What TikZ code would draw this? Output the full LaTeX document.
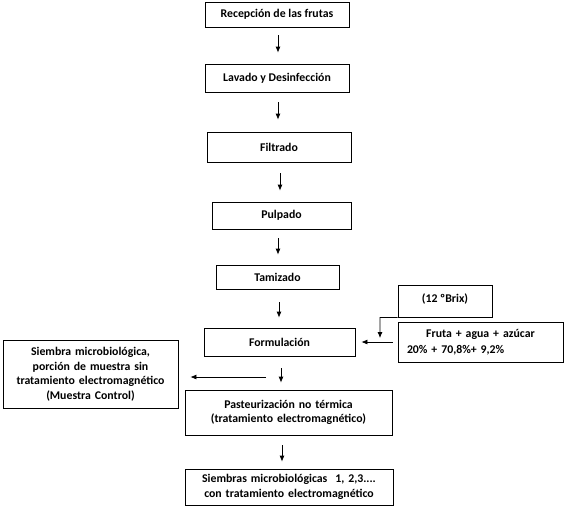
\documentclass[tikz,border=0pt]{standalone}
\usepackage{fontspec}
\setmainfont{Carlito}
\usetikzlibrary{arrows.meta}
\begin{document}
\begin{tikzpicture}[x=1pt,y=-1pt,
  box/.style={draw, line width=0.75pt, inner sep=0pt, fill=white,
    font=\bfseries\fontsize{11.8}{14.5}\selectfont, align=center},
  arr/.style={-{Latex[length=6pt,width=5pt]}, line width=0.75pt}]
\useasboundingbox (0,0) rectangle (566,515);
% main column
\node[box, minimum width=144, minimum height=25] (rec) at (277,14.5) {Recepción de las frutas};
\node[box, minimum width=144, minimum height=28] (lav) at (277,78) {Lavado y Desinfección};
\node[box, minimum width=144, minimum height=30] (fil) at (279,147) {Filtrado};
\node[box, minimum width=139, minimum height=27] (pul) at (281.5,215.5) {Pulpado};
\node[box, minimum width=123, minimum height=24] (tam) at (277.5,277) {Tamizado};
\node[box, minimum width=151, minimum height=28] (form) at (279.5,342) {Formulación};
\node[box, minimum width=207, minimum height=45, text width=207] (past) at (288.5,412.5)
  {Pasteurización no térmica\\(tratamiento electromagnético)};
\node[box, minimum width=208, minimum height=36, text width=208] (final) at (289,487)
  {Siembras microbiológicas\ \ 1, 2,3....\\con tratamiento electromagnético};
% side boxes
\node[box, minimum width=94, minimum height=32] (brix) at (445,301) {(12 ºBrix)\rule[-5pt]{0pt}{0pt}};
\node[box, minimum width=165, minimum height=40, text width=165, align=left] (fruta) at (480.5,342)
  {\makebox[165pt]{Fruta + agua + azúcar}\\[1pt]\hspace*{9pt}20\% + 70,8\%+ 9,2\%};
\node[box, minimum width=175, minimum height=68, text width=175] (ctrl) at (90.5,374)
  {Siembra microbiológica,\\porción de muestra sin\\tratamiento electromagnético\\(Muestra Control)};
% arrows main column
\draw[arr, shorten <=8pt, shorten >=11pt] ([xshift=1pt]rec.south) -- ([xshift=1pt]rec.south |- lav.north);
\draw[arr, shorten <=10pt, shorten >=12pt] ([xshift=1pt]lav.south) -- ([xshift=1pt]lav.south |- fil.north);
\draw[arr, shorten <=11pt, shorten >=11pt] ([xshift=1pt]fil.south) -- ([xshift=1pt]fil.south |- pul.north);
\draw[arr, shorten <=9pt, shorten >=10pt] ([xshift=-3.5pt]pul.south) -- ([xshift=-3.5pt]pul.south |- tam.north);
\draw[arr, shorten <=13pt, shorten >=10pt] ([xshift=1.5pt]tam.south) -- ([xshift=1.5pt]tam.south |- form.north);
\draw[arr, shorten <=12pt, shorten >=7pt] ([xshift=1.5pt]form.south) -- ([xshift=1.5pt]form.south |- past.north);
\draw[arr, shorten <=10pt, shorten >=7pt] ([xshift=-6.5pt]past.south) -- ([xshift=-6.5pt]past.south |- final.north);
% side arrows
\coordinate (split) at (266,377);
\draw[arr, shorten >=12pt] (split) -- (split -| ctrl.east);
\draw[arr, shorten <=5pt, shorten >=6pt] (fruta.west) -- (form.east);
\coordinate (brixbend) at (380,317.5);
\coordinate (brixend) at (380,338);
\draw[arr] (brix.south west) -- (brixbend) -- (brixend);
\end{tikzpicture}
\end{document}
